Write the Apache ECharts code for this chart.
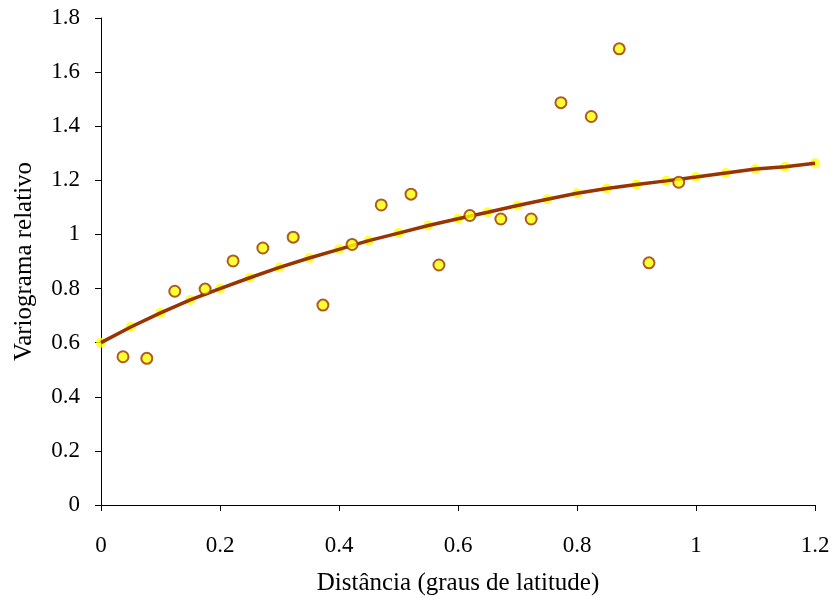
<!DOCTYPE html>
<html>
<head>
<meta charset="utf-8">
<script src="https://cdn.jsdelivr.net/npm/echarts@6/dist/echarts.min.js"></script>
<style>
html, body { margin: 0; padding: 0; background: #fff; }
#chart { width: 835px; height: 607px; }
</style>
</head>
<body>
<div id="chart"></div>
<script>
// variograma experimental (pontos)
var obsX = [0.037, 0.077, 0.124, 0.175, 0.222, 0.272, 0.323, 0.373, 0.422, 0.471, 0.521, 0.568, 0.620, 0.672, 0.723, 0.773, 0.824, 0.871, 0.921, 0.971];
var obsY = [0.548, 0.542, 0.790, 0.798, 0.902, 0.950, 0.990, 0.739, 0.963, 1.109, 1.149, 0.887, 1.070, 1.057, 1.057, 1.487, 1.436, 1.686, 0.895, 1.193];

// modelo ajustado
var modX = [0, 0.05, 0.1, 0.15, 0.2, 0.25, 0.3, 0.35, 0.4, 0.45, 0.5, 0.55, 0.6, 0.65, 0.7, 0.75, 0.8, 0.85, 0.9, 0.95, 1.0, 1.05, 1.1, 1.15, 1.2];
var modY = [0.600, 0.658, 0.710, 0.758, 0.800, 0.840, 0.878, 0.913, 0.945, 0.977, 1.005, 1.033, 1.058, 1.082, 1.107, 1.130, 1.152, 1.170, 1.185, 1.198, 1.212, 1.227, 1.242, 1.250, 1.263];

var font = '"Liberation Serif", "DejaVu Serif", serif';

function pairs(xs, ys) {
    var out = [];
    for (var i = 0; i < xs.length; i++) {
        out.push([xs[i], ys[i]]);
    }
    return out;
}

var chart = echarts.init(document.getElementById('chart'));

var option = {
    backgroundColor: '#fff',
    animation: false,
    grid: {
        left: 101,
        right: 20,
        top: 18,
        bottom: 102
    },
    xAxis: {
        type: 'value',
        min: 0,
        max: 1.2,
        interval: 0.2,
        name: 'Distância (graus de latitude)',
        nameLocation: 'middle',
        nameGap: 66,
        nameTextStyle: { fontFamily: font, fontSize: 25, color: '#000' },
        axisLine: { show: true, lineStyle: { color: '#000', width: 1 } },
        axisTick: { show: true, length: 6, lineStyle: { color: '#000' } },
        axisLabel: { fontFamily: font, fontSize: 23, color: '#000', margin: 29 },
        splitLine: { show: false }
    },
    yAxis: {
        type: 'value',
        min: 0,
        max: 1.8,
        interval: 0.2,
        name: 'Variograma relativo',
        nameLocation: 'middle',
        nameGap: 64,
        nameTextStyle: { fontFamily: font, fontSize: 25, color: '#000' },
        axisLine: { show: true, lineStyle: { color: '#000', width: 1 } },
        axisTick: { show: true, length: 6, lineStyle: { color: '#000' } },
        axisLabel: { fontFamily: font, fontSize: 23, color: '#000', margin: 21 },
        splitLine: { show: false }
    },
    series: [
        {
            name: 'modelo pontos',
            type: 'scatter',
            data: pairs(modX, modY),
            symbol: 'circle',
            symbolSize: 10,
            itemStyle: { color: '#ffff00' },
            z: 1
        },
        {
            name: 'modelo',
            type: 'line',
            data: pairs(modX, modY),
            showSymbol: false,
            smooth: false,
            lineStyle: { color: '#993300', width: 3.5 },
            z: 2
        },
        {
            name: 'experimental',
            type: 'scatter',
            data: pairs(obsX, obsY),
            symbol: 'circle',
            symbolSize: 11,
            itemStyle: { color: '#ffff00', borderColor: '#993300', borderWidth: 2 },
            z: 3
        }
    ]
};

chart.setOption(option);
</script>
</body>
</html>
